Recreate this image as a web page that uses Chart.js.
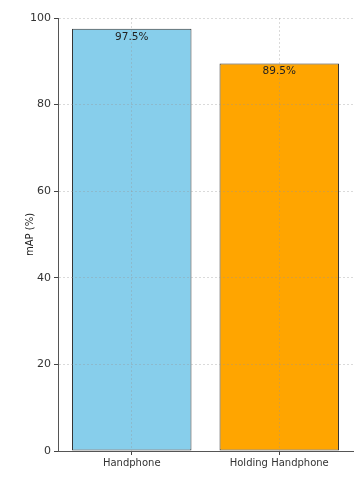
<!DOCTYPE html>
<html>
<head>
<meta charset="utf-8">
<script src="https://cdn.jsdelivr.net/npm/chart.js@4/dist/chart.umd.min.js"></script>
<style>
  html, body { margin: 0; padding: 0; background: #fff; }
  #wrap { width: 363px; height: 480px; }
</style>
</head>
<body>
<div id="wrap"><canvas id="chart"></canvas></div>
<script>
// data
var categories = ['Handphone', 'Holding Handphone'];
var mapValues = [97.5, 89.5];
var barColors = ['#87CEEB', '#FFA500'];
var yTicks = [0, 20, 40, 60, 80, 100];

// draws the "97.5%" labels just under the top of each bar
var valueLabels = {
    id: 'valueLabels',
    afterDraw: function (chart) {
        var ctx = chart.ctx;
        var meta = chart.getDatasetMeta(0);
        ctx.save();
        ctx.font = '10.5px "DejaVu Sans"';
        ctx.fillStyle = '#222';
        ctx.textAlign = 'center';
        ctx.textBaseline = 'top';
        meta.data.forEach(function (bar, i) {
            ctx.fillText(mapValues[i].toFixed(1) + '%', bar.x, bar.y + 3);
        });
        ctx.restore();
    }
};

new Chart(document.getElementById('chart'), {
    type: 'bar',
    data: {
        labels: categories,
        datasets: [{
            data: mapValues,
            backgroundColor: barColors,
            borderColor: '#333',
            borderWidth: 1,
            borderSkipped: false,
            categoryPercentage: 1,
            barPercentage: 0.81
        }]
    },
    options: {
        responsive: true,
        maintainAspectRatio: false,
        animation: false,
        layout: { padding: { top: 18, right: 10, left: 0, bottom: 0 } },
        plugins: {
            legend: { display: false },
            tooltip: { enabled: false }
        },
        scales: {
            x: {
                grid: {
                    z: 1,
                    offset: false,
                    color: 'rgba(150,150,150,0.35)',
                    lineWidth: 1,
                    tickLength: 4,
                    tickColor: '#444'
                },
                border: { z: 2, color: '#555', width: 1, dash: [2, 2] },
                ticks: {
                    color: '#333',
                    font: { family: 'DejaVu Sans', size: 10 },
                    padding: 2,
                    maxRotation: 0
                },
                afterFit: function (scale) { scale.height = 29; }
            },
            y: {
                min: 0,
                max: 100,
                afterBuildTicks: function (scale) {
                    scale.ticks = yTicks.map(function (v) { return { value: v }; });
                },
                grid: {
                    z: 1,
                    color: 'rgba(150,150,150,0.35)',
                    lineWidth: 1,
                    tickLength: 4,
                    tickColor: '#444'
                },
                border: { z: 2, color: '#555', width: 1, dash: [2, 2] },
                ticks: {
                    color: '#333',
                    font: { family: 'DejaVu Sans', size: 11 },
                    padding: 3
                },
                title: {
                    display: true,
                    text: 'mAP (%)',
                    color: '#222',
                    font: { family: 'DejaVu Sans', size: 10 },
                    padding: { top: 24, bottom: 4 }
                },
                afterFit: function (scale) { scale.width = 58; }
            }
        }
    },
    plugins: [valueLabels]
});
</script>
</body>
</html>
